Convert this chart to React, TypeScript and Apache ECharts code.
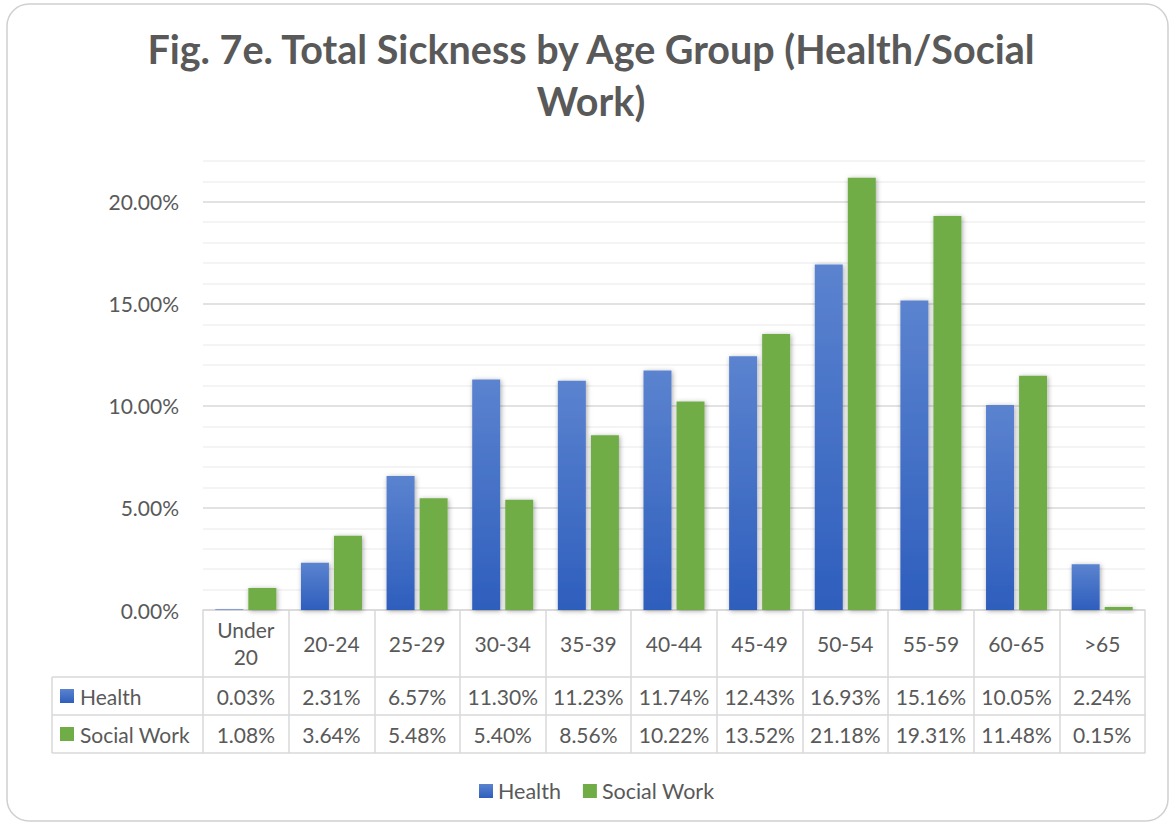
import React, { useEffect, useRef } from "react";
import * as echarts from "echarts";

const categories = ["Under\n20", "20-24", "25-29", "30-34", "35-39", "40-44", "45-49", "50-54", "55-59", "60-65", ">65"];
const health = [0.03, 2.31, 6.57, 11.3, 11.23, 11.74, 12.43, 16.93, 15.16, 10.05, 2.24];
const socialWork = [1.08, 3.64, 5.48, 5.4, 8.56, 10.22, 13.52, 21.18, 19.31, 11.48, 0.15];
const seriesNames = ["Health", "Social Work"];
const yTickLabels = [0, 5, 10, 15, 20];
const titleText = "Fig. 7e. Total Sickness by Age Group (Health/Social\nWork)";

const FONT = "Lato, 'Open Sans', sans-serif";
const TEXT = "#595959";
const LINE = "#d9d9d9";
const FS = 21;

const blue = () =>
  new echarts.graphic.LinearGradient(0, 0, 0, 1, [
    { offset: 0, color: "#5b83cf" },
    { offset: 1, color: "#2e5ebd" },
  ]);
const green = "#70ad47";

const fmt = (v: number) => v.toFixed(2) + "%";

export default function App() {
  const ref = useRef<HTMLDivElement>(null);
  useEffect(() => {
    if (!ref.current) return;
    const chart = echarts.init(ref.current, undefined, { renderer: "svg" });
    const tableAxis = (offset: number, data: string[], tickLen: number, labelMargin: number, showLabel = true) => ({
      type: "category",
      gridIndex: 0,
      position: "bottom",
      offset,
      data,
      boundaryGap: true,
      axisLine: { show: true, lineStyle: { color: LINE, width: 1.5 } },
      axisTick: { show: tickLen > 0, interval: 0, length: tickLen, lineStyle: { color: LINE, width: 1.5 } },
      axisLabel: {
        show: showLabel,
        interval: 0,
        margin: labelMargin,
        verticalAlign: "middle",
        color: TEXT,
        fontFamily: FONT,
        fontSize: FS,
        lineHeight: 27,
      },
      splitLine: { show: false },
    });
    chart.setOption({
      animation: false,
      backgroundColor: "#ffffff",
      legend: {
        data: seriesNames,
        left: 474,
        top: 775,
        icon: "rect",
        itemWidth: 14,
        itemHeight: 14,
        itemGap: 22,
        textStyle: { color: TEXT, fontFamily: FONT, fontSize: 21.5 },
      },
      grid: { left: 203, right: 25, top: 161, bottom: 215, containLabel: false },
      xAxis: [
        tableAxis(0, categories, 67, 33),
        tableAxis(67, health.map(fmt), 38, 19),
        tableAxis(105, socialWork.map(fmt), 38, 19),
        tableAxis(143, categories.map(() => ""), 0, 0, false),
      ],
      yAxis: {
        type: "value",
        min: 0,
        max: 22,
        interval: 1,
        axisLine: { show: false },
        axisTick: { show: false },
        axisLabel: {
          margin: 24,
          color: TEXT,
          fontFamily: FONT,
          fontSize: FS,
          formatter: (v: number) => (yTickLabels.includes(v) ? v.toFixed(2) + "%" : ""),
        },
        splitLine: {
          show: true,
          lineStyle: { color: ["#d9d9d9", "#f0f0f0", "#f0f0f0", "#f0f0f0", "#f0f0f0"], width: 1.5 },
        },
      },
      series: [
        {
          name: seriesNames[0],
          type: "bar",
          data: health,
          barWidth: 28,
          barGap: "18%",
          itemStyle: {
            color: blue(),
            shadowBlur: 5,
            shadowColor: "rgba(0,0,0,0.35)",
            shadowOffsetX: 1,
            shadowOffsetY: 1,
          },
        },
        {
          name: seriesNames[1],
          type: "bar",
          data: socialWork,
          barWidth: 28,
          barGap: "18%",
          itemStyle: {
            color: green,
            shadowBlur: 5,
            shadowColor: "rgba(0,0,0,0.35)",
            shadowOffsetX: 1,
            shadowOffsetY: 1,
          },
        },
      ],
      graphic: [
        {
          type: "rect",
          shape: { x: 7, y: 4, width: 1161, height: 817, r: 22 },
          style: { fill: "none", stroke: "#d0d0d0", lineWidth: 1.5 },
          silent: true,
        },
        {
          type: "text",
          x: 591,
          y: 22,
          style: {
            text: titleText,
            fill: TEXT,
            font: `bold 39.5px ${FONT}`,
            lineHeight: 52,
            align: "center",
            verticalAlign: "top",
          },
        },
        { type: "line", shape: { x1: 52, y1: 677, x2: 203, y2: 677 }, style: { stroke: LINE, lineWidth: 1.5 } },
        { type: "line", shape: { x1: 52, y1: 715, x2: 203, y2: 715 }, style: { stroke: LINE, lineWidth: 1.5 } },
        { type: "line", shape: { x1: 52, y1: 753, x2: 203, y2: 753 }, style: { stroke: LINE, lineWidth: 1.5 } },
        { type: "line", shape: { x1: 52, y1: 677, x2: 52, y2: 753 }, style: { stroke: LINE, lineWidth: 1.5 } },
        { type: "rect", shape: { x: 60, y: 689, width: 14, height: 14 }, style: { fill: blue() } },
        { type: "rect", shape: { x: 60, y: 727, width: 14, height: 14 }, style: { fill: green } },
        {
          type: "text",
          x: 80,
          y: 696,
          style: { text: seriesNames[0], fill: TEXT, font: `${FS}px ${FONT}`, verticalAlign: "middle" },
        },
        {
          type: "text",
          x: 80,
          y: 734,
          style: { text: seriesNames[1], fill: TEXT, font: `${FS}px ${FONT}`, verticalAlign: "middle" },
        },
      ],
    });
    return () => chart.dispose();
  }, []);
  return <div ref={ref} style={{ position: "absolute", left: 0, top: 0, width: 1170, height: 825 }} />;
}
